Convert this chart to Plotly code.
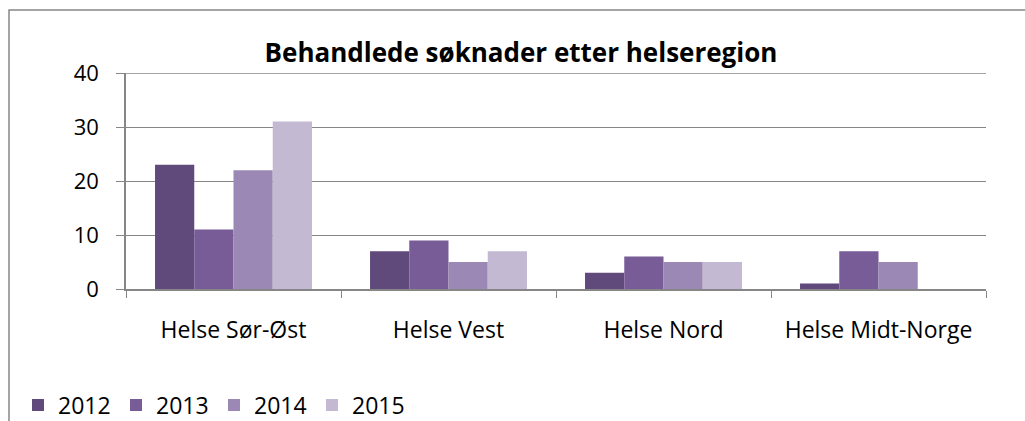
import plotly.graph_objects as go

categories = ["Helse Sør-Øst", "Helse Vest", "Helse Nord", "Helse Midt-Norge"]
years = ["2012", "2013", "2014", "2015"]
v2012 = [23, 7, 3, 1]
v2013 = [11, 9, 6, 7]
v2014 = [22, 5, 5, 5]
v2015 = [31, 7, 5, None]
colors = ["#604A7B", "#775C98", "#9C88B4", "#C3B9D2"]

series = [v2012, v2013, v2014, v2015]
FONT = "'Open Sans', sans-serif"

fig = go.Figure()
for name, vals, col in zip(years, series, colors):
    fig.add_trace(go.Bar(x=categories, y=vals, name=name, marker=dict(color=col, line=dict(width=0))))

W, H = 1025, 421
L, R, T, B = 126, 39, 73, 132
pw, ph = W - L - R, H - T - B
YMAX = 40

fig.update_layout(
    width=W, height=H,
    margin=dict(l=L, r=R, t=T, b=B),
    paper_bgcolor="white", plot_bgcolor="white",
    barmode="group", bargap=0.27, bargroupgap=0,
    font=dict(family=FONT, size=22, color="#000000"),
    title=dict(text="<b>Behandlede søknader etter helseregion</b>", x=521 / W, xanchor="center",
               y=1 - 53 / H, yanchor="middle", font=dict(size=26, family=FONT)),
    xaxis=dict(showline=True, linecolor="#868686", linewidth=1.5, ticks="outside", ticklen=7,
               tickcolor="#868686", tickson="boundaries", showgrid=False,
               ticklabelstandoff=20,
               tickfont=dict(size=23, family=FONT)),
    yaxis=dict(range=[0, YMAX], dtick=10, showline=True, linecolor="#868686", linewidth=1.5,
               ticks="outside", ticklen=8, tickcolor="#868686", showgrid=True,
               gridcolor="#868686", gridwidth=1.3, zeroline=False,
               ticklabelstandoff=13,
               tickfont=dict(size=22, family=FONT)),
    legend=dict(orientation="h", xref="container", yref="container",
                x=18 / W, xanchor="left", y=1 - 405 / H, yanchor="middle",
                font=dict(size=23, family=FONT), entrywidth=53, entrywidthmode="pixels",
                traceorder="normal"),
    shapes=[
        dict(type="rect", xref="paper", yref="paper",
             x0=(9 - L) / pw, x1=1.2, y0=-1.0, y1=(289 - 10) / ph,
             line=dict(color="#868686", width=1.5), fillcolor="rgba(0,0,0,0)", layer="below"),
        dict(type="line", xref="paper", yref="y", x0=0, x1=1, y0=YMAX, y1=YMAX,
             line=dict(color="#868686", width=1.3), layer="below"),
    ],
)

fig.write_html("out.html", config={"displayModeBar": False},
               post_script="document.body.style.margin='0';document.body.style.overflow='hidden';")
